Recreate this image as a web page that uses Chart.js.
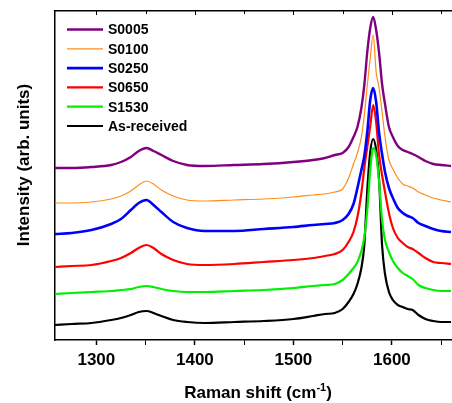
<!DOCTYPE html>
<html>
<head>
<meta charset="utf-8">
<script src="https://cdn.jsdelivr.net/npm/chart.js@4.4.1/dist/chart.umd.min.js"></script>
<style>
  body { margin: 0; background: #fff; }
  #wrap { width: 452px; height: 403px; position: relative; }
</style>
</head>
<body>
<div id="wrap"><canvas id="chart0"></canvas></div>
<script>
// Raman shift (cm-1) sample positions
var shift = [1258,1275,1295,1315,1325,1335,1343,1351,1358,1366,1378,1392,1410,1440,1470,1500,
             1520,1532,1542,1550,1556,1561,1565,1569,1572,1575,1578,1581,1584,1587,1590,1593,
             1597,1601,1606,1611,1616,1621,1627,1634,1642,1650,1660];

// intensities (arb. units, offset stacked as in the figure)
var s0005 = [172,172,173,175,178,183,189,192,189,185,179,175,174,175,176,178,
             180,182,185,187,193,203,213,232,255,288,312,323,310,287,256,236,
             213,203,194,190,188,186,183,179,176,175,174];
var s0100 = [137,137,138,141,144,149,155,159,156,150,144,140,139,140,141,143,
             145,146,148,151,162,176,187,203,225,255,282,305,268,252,228,203,
             180,171,162,156,154,152,148,145,142,140,138];
var s0250 = [106,107,110,116,121,130,137,140,135,128,118,112,109,109,111,113,
             115,116,117,120,126,136,152,170,184,208,240,252,238,207,186,168,
             152,142,132,127,124,122,117,114,111,109,108];
var s0650 = [73,74,75,79,82,87,92,95,92,86,80,76,75,76,78,80,
             82,84,86,90,98,108,123,147,172,193,214,235,218,185,165,148,
             127,112,102,97,93,91,87,82,78,77,76];
var s1530 = [46,47,48,49,50,51,53,54,53,51,49,48,48,49,50,52,
             54,55,56,60,66,72,78,89,103,130,170,192,185,158,120,100,
             88,79,72,67,64,61,55,52,50,49,49];
var asReceived = [15,16,17,20,22,25,28,29,27,24,20,18,17,18,19,21,
                  24,26,27,31,38,46,56,72,95,150,188,201,190,160,95,66,
                  48,40,35,33,31,30,25,21,19,18,18];

var seriesNames = ['S0005', 'S0100', 'S0250', 'S0650', 'S1530', 'As-received'];
var seriesData = [s0005, s0100, s0250, s0650, s1530, asReceived];
var seriesColors = ['#800080', '#ff8c1a', '#0000ff', '#ff0000', '#00f000', '#000000'];
var seriesWidths = [2.4, 1.2, 2.6, 2.2, 2.2, 2.2];

var xMin = 1258, xMax = 1661;
var FONT = "'Liberation Sans', Arial, sans-serif";

function toPoints(arr) {
    return arr.map(function (v, i) { return { x: shift[i], y: v }; });
}

var datasets = seriesNames.map(function (name, i) {
    return {
        label: name,
        data: toPoints(seriesData[i]),
        borderColor: seriesColors[i],
        backgroundColor: seriesColors[i],
        borderWidth: seriesWidths[i],
        pointRadius: 0,
        cubicInterpolationMode: 'monotone',
        fill: false
    };
});

// titles, inner legend and the small inward ticks on the top frame
var decorations = {
    id: 'decorations',
    afterDraw: function (chart) {
        var ctx = chart.ctx;
        var area = chart.chartArea;
        var xs = chart.scales.x;
        ctx.save();

        // top frame ticks pointing inward
        ctx.strokeStyle = '#000';
        ctx.lineWidth = 1;
        for (var v = 1300; v <= 1650; v += 50) {
            var px = Math.round(xs.getPixelForValue(v)) + 0.5;
            ctx.beginPath();
            ctx.moveTo(px, area.top);
            ctx.lineTo(px, area.top + (v % 100 === 0 ? 4 : 3));
            ctx.stroke();
        }

        // legend
        ctx.textBaseline = 'middle';
        ctx.textAlign = 'left';
        ctx.font = 'bold 14px ' + FONT;
        chart.data.datasets.forEach(function (ds, i) {
            var y = 29.5 + i * 19.3;
            ctx.strokeStyle = ds.borderColor;
            ctx.lineWidth = ds.borderWidth;
            ctx.beginPath();
            ctx.moveTo(67, y);
            ctx.lineTo(103, y);
            ctx.stroke();
            ctx.fillStyle = '#000';
            ctx.fillText(ds.label, 108, y + 1);
        });

        // y title
        ctx.font = 'bold 17px ' + FONT;
        ctx.fillStyle = '#000';
        ctx.save();
        ctx.translate(29, 165);
        ctx.rotate(-Math.PI / 2);
        ctx.textAlign = 'center';
        ctx.textBaseline = 'alphabetic';
        ctx.fillText('Intensity (arb. units)', 0, 0);
        ctx.restore();

        // x title with superscript
        var part1 = 'Raman shift (cm', sup = '-1', part2 = ')';
        ctx.textBaseline = 'alphabetic';
        ctx.font = 'bold 17px ' + FONT;
        var w1 = ctx.measureText(part1).width;
        var w3 = ctx.measureText(part2).width;
        ctx.font = 'bold 11px ' + FONT;
        var w2 = ctx.measureText(sup).width;
        var x0 = 258 - (w1 + w2 + w3) / 2;
        var base = 398;
        ctx.font = 'bold 17px ' + FONT;
        ctx.fillText(part1, x0, base);
        ctx.font = 'bold 11px ' + FONT;
        ctx.fillText(sup, x0 + w1, base - 7);
        ctx.font = 'bold 17px ' + FONT;
        ctx.fillText(part2, x0 + w1 + w2, base);
        ctx.restore();
    }
};

var chart0 = new Chart(document.getElementById('chart0'), {
    type: 'line',
    data: { datasets: datasets },
    options: {
        responsive: true,
        maintainAspectRatio: false,
        animation: false,
        layout: { padding: 0 },
        plugins: {
            legend: { display: false },
            tooltip: { enabled: false }
        },
        scales: {
            x: {
                type: 'linear',
                position: 'bottom',
                min: xMin,
                max: xMax,
                afterFit: function (s) { s.height = 63; },
                ticks: {
                    stepSize: 50,
                    includeBounds: false,
                    autoSkip: false,
                    maxRotation: 0,
                    padding: 5,
                    color: '#000',
                    font: { family: FONT, size: 17, weight: 'bold' },
                    callback: function (v) { return v % 100 === 0 ? String(v) : ''; }
                },
                grid: {
                    drawOnChartArea: false,
                    drawTicks: true,
                    tickLength: 5,
                    tickColor: '#000',
                    tickWidth: function (c) { return c.tick && c.tick.value % 100 === 0 ? 1.5 : 1; }
                },
                border: { color: '#000', width: 1.5 }
            },
            x2: {
                type: 'linear',
                position: 'top',
                min: xMin,
                max: xMax,
                afterFit: function (s) { s.height = 11; },
                ticks: { display: false },
                grid: { drawOnChartArea: false, drawTicks: false },
                border: { color: '#000', width: 1.5 }
            },
            y: {
                type: 'linear',
                position: 'left',
                min: 0,
                max: 329,
                afterFit: function (s) { s.width = 55; },
                ticks: { display: false },
                grid: { drawOnChartArea: false, drawTicks: false },
                border: { color: '#000', width: 1.5 }
            }
        }
    },
    plugins: [decorations]
});
</script>
</body>
</html>
